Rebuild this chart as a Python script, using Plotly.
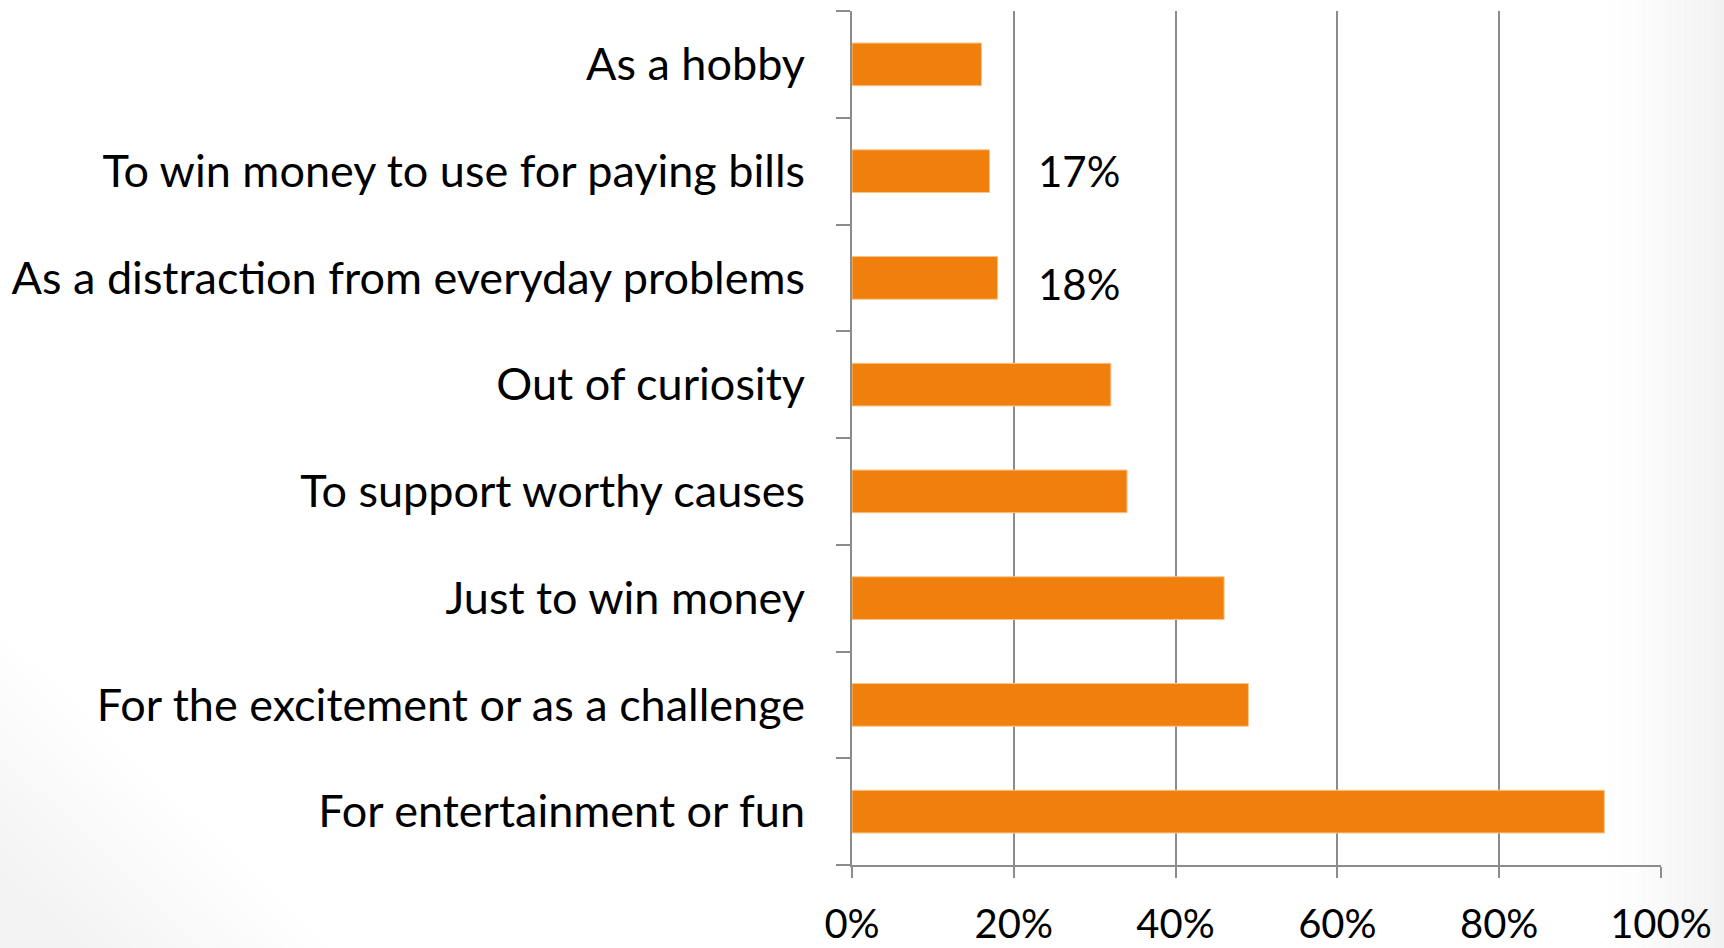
import plotly.graph_objects as go

# Survey: reasons for playing
categories = [
    "For entertainment or fun",
    "For the excitement or as a challenge",
    "Just to win money",
    "To support worthy causes",
    "Out of curiosity",
    "As a distraction from everyday problems",
    "To win money to use for paying bills",
    "As a hobby",
]
values = [93, 49, 46, 34, 32, 18, 17, 16]

# Only these two bars carry a value label
labelled = ["To win money to use for paying bills",
            "As a distraction from everyday problems"]
label_x = 28
label_yshift = {labelled[0]: 0, labelled[1]: -6}

tick_vals = [0, 20, 40, 60, 80, 100]
tick_text = ["0%", "20%", "40%", "60%", "80%", "100%"]

FONT = "Lato, 'Open Sans', sans-serif"
GRID = "#8c8c8c"
BAR = "#f0800b"

W, H = 1724, 948
ML, MR, MT, MB = 852, 63, 11, 83
PW, PH = W - ML - MR, H - MT - MB


def px_x(px):
    """Pixel column -> paper x."""
    return (px - ML) / PW


def px_y(py):
    """Pixel row (from top) -> paper y."""
    return 1 - (py - MT) / PH


shapes = []
# Soft grey shading along the right edge of the slide
n = 24
x0 = 1600
for i in range(n):
    a = x0 + (W - x0) * i / n
    b = x0 + (W - x0) * (i + 1) / n
    g = int(round(255 - 14 * ((i + 1) / n) ** 1.4))
    shapes.append(dict(
        type="rect", xref="paper", yref="paper", layer="below",
        x0=px_x(a), x1=px_x(b), y0=px_y(H), y1=px_y(0),
        line=dict(width=0), fillcolor=f"rgb({g},{g},{g})",
    ))
# Soft shading in the bottom-left corner
steps = 12
for k in range(steps):
    size = 330 - 22 * k
    g = 254 - k
    path = (f"M {px_x(0)},{px_y(H - size * 0.95)} "
            f"L {px_x(0)},{px_y(H)} L {px_x(size)},{px_y(H)} Z")
    shapes.append(dict(
        type="path", xref="paper", yref="paper", layer="below",
        path=path, line=dict(width=0), fillcolor=f"rgb({g},{g},{g})",
    ))

fig = go.Figure()
fig.add_trace(go.Bar(
    x=values,
    y=categories,
    orientation="h",
    marker=dict(color=BAR, line=dict(color="#f9c58c", width=1)),
    hoverinfo="x+y",
))

for cat in labelled:
    v = values[categories.index(cat)]
    fig.add_annotation(
        x=label_x, y=cat, xref="x", yref="y",
        text=f"{v}%", showarrow=False,
        xanchor="center", yanchor="middle",
        yshift=label_yshift[cat],
        font=dict(family=FONT, size=42, color="#000000"),
    )

fig.update_layout(
    width=W, height=H,
    margin=dict(l=ML, r=MR, t=MT, b=MB, autoexpand=False),
    paper_bgcolor="#ffffff",
    plot_bgcolor="rgba(0,0,0,0)",
    bargap=0.6,
    showlegend=False,
    shapes=shapes,
    font=dict(family=FONT, size=42, color="#000000"),
)

fig.update_xaxes(
    range=[0, 100],
    tickvals=tick_vals,
    ticktext=tick_text,
    showgrid=True, gridcolor=GRID, gridwidth=2,
    showline=True, linecolor=GRID, linewidth=2,
    ticks="outside", ticklen=11, tickwidth=2, tickcolor=GRID,
    ticklabelstandoff=12,
    zeroline=False,
    automargin=False,
    tickfont=dict(family=FONT, size=40, color="#000000"),
    fixedrange=True,
)

fig.update_yaxes(
    categoryorder="array", categoryarray=categories,
    showgrid=False,
    showline=True, linecolor=GRID, linewidth=2,
    ticks="outside", ticklen=14, tickwidth=2, tickcolor=GRID,
    tickson="boundaries",
    ticklabelstandoff=36,
    automargin=False,
    tickfont=dict(family=FONT, size=45, color="#000000"),
    fixedrange=True,
)

fig.write_html("out.html")
